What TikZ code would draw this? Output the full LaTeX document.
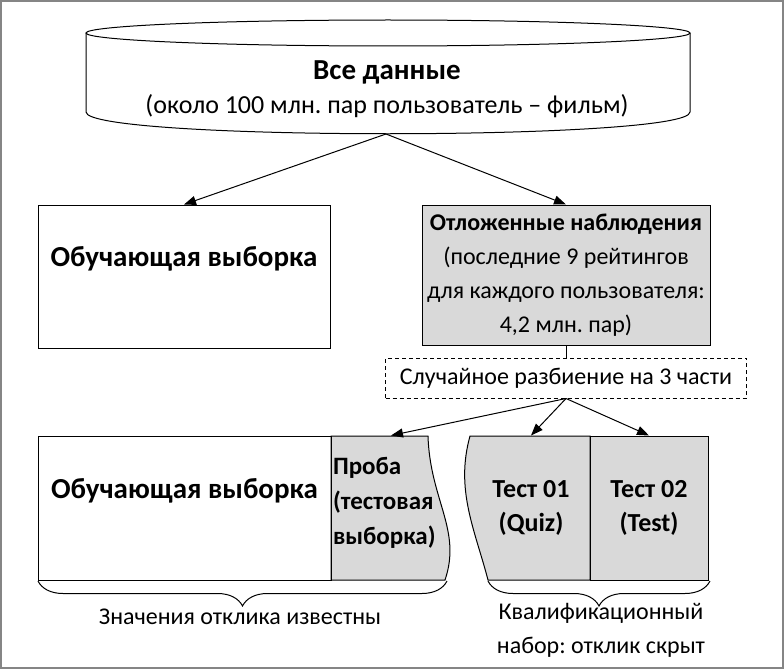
\documentclass[tikz,border=0pt]{standalone}
\usepackage{fontspec}
\setmainfont{Carlito}
\usetikzlibrary{arrows.meta,positioning,decorations.pathreplacing}
\definecolor{Shade}{HTML}{D9D9D9}
\definecolor{Frame}{HTML}{858585}
\frenchspacing

\begin{document}
\begin{tikzpicture}[
  x=1pt,y=-1pt,line width=1pt,
  >={Triangle[length=12pt,width=9pt]},
  font=\fontsize{24}{34}\selectfont,
  box/.style={draw,align=center,inner sep=2pt},
  grey/.style={fill=Shade},
  title/.style={font=\fontsize{29}{34}\selectfont\bfseries},
  heavy/.style={font=\fontsize{26}{34}\selectfont\bfseries},
  note/.style={align=center,inner sep=1pt},
  brace/.style={decorate,decoration={brace,amplitude=25pt}}
]
  \useasboundingbox (0,0) rectangle (784,669);
  \draw[Frame,line width=2pt] (1,1) rectangle (783,668);

  % all data (cylinder)
  \draw (388,33) ellipse [x radius=302pt,y radius=13pt];
  \draw (86,33) -- (86,112) .. controls (86,141) and (690,141) .. (690,112) -- (690,33);
  \node[note,font=\fontsize{26}{34}\selectfont] (all) at (387,89)
    {{\fontsize{29}{34}\selectfont\bfseries Все данные}\\(около 100 млн. пар пользователь – фильм)};
  \coordinate (allbase) at (386,134);

  % first split
  \node[box,title,minimum width=292pt,minimum height=143pt] (train) at (184,276.5)
    {\raisebox{18pt}[\height][\depth]{Обучающая выборка}};
  \node[box,grey,minimum width=288pt,minimum height=140pt] (held) at (566,275)
    {\textbf{Отложенные наблюдения}\\(последние 9 рейтингов\\для каждого пользователя:\\4,2 млн. пар)};
  \node[box,dash pattern=on 4pt off 3pt,minimum width=361pt,minimum height=40pt,below=12pt of held] (split)
    {Случайное разбиение на 3 части};

  \draw[->] (allbase) -- (train.north);
  \draw[->] (allbase) -- (held.north);
  \draw (held.south) -- (split.north);

  % second row
  \draw[grey] (331,436) -- (428,436) .. controls (430,500) and (462,530) .. (445,580) -- (331,580) -- cycle;
  \draw[grey] (470,436) -- (590,436) -- (590,580) -- (488,580) .. controls (475,530) and (455,490) .. (470,436) -- cycle;
  \node[box,title,minimum width=293pt,minimum height=144pt] (train2) at (184.5,508)
    {\raisebox{17pt}[\height][\depth]{Обучающая выборка}};
  \node[heavy,font=\fontsize{25}{35}\selectfont\bfseries,align=left,text width=116pt,inner sep=2pt,minimum height=134pt] (probe) at (391,503)
    {Проба\\(тестовая\\выборка)};
  \node[heavy,align=center,inner sep=2pt,minimum height=144pt] (quiz) at (531,508) {Тест 01\\(Quiz)};
  \node[box,grey,heavy,minimum width=118pt,minimum height=144pt] (test) at (649,508) {Тест 02\\(Test)};

  \draw[->] (split.south) -- (probe.north);
  \draw[->] (split.south) -- (quiz.north);
  \draw[->] (split.south) -- (test.north);

  % braces
  \draw[brace] (447,581) -- (38,581);
  \draw[brace] (710,581) -- (488,581);
  \node[note] (known) at (240,617) {Значения отклика известны};
  \node[note] (hidden) at (601,630) {Квалификационный\\набор: отклик скрыт};
\end{tikzpicture}
\end{document}
